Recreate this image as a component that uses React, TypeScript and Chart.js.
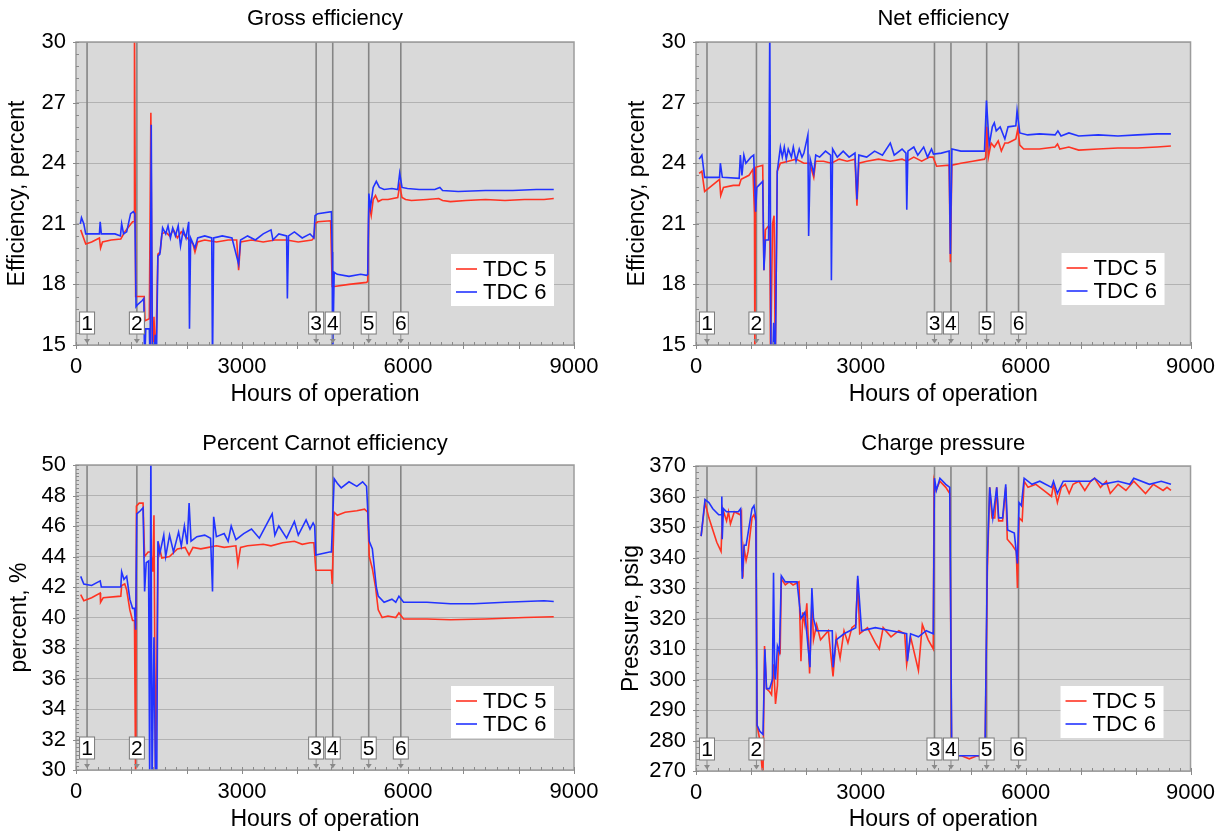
import React, { useEffect, useRef } from 'react';
import { Chart, registerables } from 'chart.js';

Chart.register(...registerables);

const FONT = '"Liberation Sans", Arial, Helvetica, sans-serif';
Chart.defaults.font.family = FONT;
Chart.defaults.color = '#000';

// ---------- shared ----------
const seriesLabels = ['TDC 5', 'TDC 6'];
const seriesColors = ['#ff3322', '#2233ff'];
const eventHours = [200, 1100, 4340, 4640, 5290, 5870];
const eventLabels = ['1', '2', '3', '4', '5', '6'];
const xTickLabels = ['0', '3000', '6000', '9000'];

// ---------- Gross efficiency ----------
const grossHours5 = [85,176,282,423,444,479,634,810,881,1022,1050,1057,1078,1128,1233,1247,1325,1353,1381,1409,1438,1480,1522,1551,1621,1691,1762,1832,1903,1973,2044,2114,2150,2199,2326,2537,2749,2904,2939,2974,3172,3383,3594,3806,4017,4264,4299,4320,4370,4602,4630,4666,4934,5251,5272,5293,5335,5371,5413,5462,5533,5638,5815,5850,5892,5956,6061,6343,6555,6625,6766,7048,7400,7753,8105,8458,8634];
const gross5 = [20.7,20.0,20.1,20.3,19.8,20.1,20.2,20.25,20.6,21.1,21.1,31,17.4,17.4,17.4,16.2,16.3,26.5,14,16.4,14,19.5,19.6,20.5,20.6,20.4,20.7,20.3,20.6,20.4,20.2,20.0,19.6,20.1,20.2,20.1,20.2,20.2,18.7,20.1,20.2,20.1,20.2,20.2,20.1,20.2,20.3,21.0,21.1,21.15,17.9,17.9,18.0,18.1,18.15,22.0,21.4,22.2,22.4,22.1,22.2,22.2,22.3,22.9,22.3,22.2,22.15,22.2,22.25,22.15,22.1,22.15,22.2,22.15,22.2,22.2,22.25];
const grossHours6 = [78,99,141,176,423,437,458,705,803,825,860,916,987,1036,1064,1085,1114,1198,1226,1240,1261,1325,1339,1360,1381,1409,1431,1452,1480,1515,1565,1621,1663,1706,1748,1797,1847,1889,1938,1988,2037,2051,2072,2150,2199,2326,2453,2467,2488,2643,2819,2939,2974,3101,3242,3383,3524,3559,3665,3806,3820,3841,3947,4088,4229,4299,4320,4370,4616,4630,4637,4666,4722,4934,5145,5251,5272,5293,5321,5371,5427,5483,5568,5709,5815,5850,5892,5991,6202,6484,6576,6625,6907,7400,7894,8317,8634];
const gross6 = [21.0,21.3,21.0,20.5,20.5,21.1,20.5,20.5,20.4,21.0,20.5,20.6,21.5,21.6,21.5,16.9,17.0,17.2,17.3,14,15.8,15.8,14,25.9,14,14,15.5,14,19.4,19.5,20.8,20.5,20.9,20.3,20.8,20.4,20.9,19.9,20.7,20.3,21.1,15.8,20.3,19.8,20.3,20.4,20.3,14,20.3,20.4,20.3,19.0,20.2,20.4,20.2,20.5,20.7,20.2,20.5,20.4,17.3,20.4,20.6,20.3,20.5,20.3,21.4,21.5,21.6,19.6,14,18.6,18.5,18.4,18.5,18.45,18.5,22.5,21.8,22.8,23.1,22.8,22.7,22.75,22.7,23.5,22.8,22.75,22.7,22.7,22.8,22.65,22.6,22.65,22.65,22.7,22.7];

// ---------- Net efficiency ----------
const netHours5 = [57,107,157,250,429,450,500,679,786,821,964,1036,1064,1071,1086,1214,1236,1264,1321,1343,1357,1393,1421,1443,1479,1536,1679,1821,1964,2071,2143,2179,2321,2464,2607,2750,2893,2929,2964,3107,3321,3536,3750,3836,3964,4107,4250,4314,4379,4607,4629,4657,4821,5036,5250,5271,5293,5321,5371,5429,5500,5557,5621,5679,5750,5821,5857,5893,5964,6250,6536,6579,6621,6786,6964,7321,7679,8036,8393,8643];
const net5 = [23.5,23.6,22.6,22.8,23.2,22.4,22.8,22.9,22.9,23.2,23.4,23.7,21.5,14,23.8,23.9,18.7,20.7,20.9,20.8,14,21.0,21.4,14,23.6,24.0,24.1,24.2,24.0,24.0,23.3,24.1,24.1,24.0,24.2,24.1,24.2,21.9,24.0,24.1,24.2,24.1,24.2,24.1,24.3,24.1,24.3,24.3,23.85,23.9,19.1,23.9,24.0,24.1,24.2,24.3,25.8,24.3,25.0,24.8,25.1,24.6,25.0,25.0,25.1,25.2,25.7,24.9,24.7,24.7,24.8,24.95,24.7,24.8,24.65,24.7,24.75,24.75,24.8,24.85];
const netHours6 = [57,107,157,429,443,479,786,807,836,871,907,1000,1050,1086,1107,1179,1214,1236,1264,1321,1343,1364,1393,1414,1443,1479,1536,1571,1607,1643,1679,1736,1771,1821,1879,1929,1964,2036,2050,2079,2143,2179,2250,2357,2450,2464,2486,2571,2679,2786,2893,2929,2964,3107,3250,3393,3536,3607,3750,3821,3836,3857,3964,4036,4143,4214,4286,4321,4464,4607,4629,4657,4821,5036,5250,5286,5336,5393,5429,5464,5536,5621,5679,5821,5843,5893,6036,6250,6536,6586,6643,6786,6964,7321,7679,8036,8393,8643];
const net6 = [24.2,24.4,23.3,23.3,24.0,23.3,23.25,24.4,23.4,24.4,24.0,24.3,24.4,21.6,22.8,23.0,23.1,18.7,20.2,20.2,31,14,14,16.1,14,23.6,24.8,24.3,24.8,24.2,24.7,24.3,24.8,24.1,24.7,24.3,24.5,25.4,20.4,24.2,23.5,24.4,24.3,24.6,24.4,18.2,24.7,24.3,24.6,24.3,24.5,22.2,24.4,24.3,24.6,24.4,25.0,24.4,24.7,24.5,21.7,24.6,24.8,24.4,24.8,24.3,24.7,24.45,24.5,24.6,19.5,24.7,24.6,24.6,24.6,27.1,24.9,25.8,26.0,25.6,25.8,25.2,25.8,25.85,26.6,25.5,25.4,25.45,25.4,25.6,25.35,25.5,25.35,25.4,25.35,25.4,25.45,25.45];

// ---------- Percent Carnot efficiency ----------
const carnotHours5 = [85,141,282,437,444,493,810,825,881,916,973,1022,1057,1078,1092,1142,1212,1240,1304,1353,1388,1409,1438,1480,1501,1551,1691,1832,1973,2044,2114,2255,2396,2537,2678,2890,2925,2974,3101,3383,3524,3735,3947,4088,4229,4299,4334,4616,4630,4666,4722,4863,5075,5215,5272,5300,5356,5413,5462,5533,5638,5779,5836,5920,6343,6766,7400,8105,8634];
const carnot5 = [41.5,41.1,41.3,41.6,41.0,41.3,41.4,42.1,42.2,41.8,40.5,39.8,39.8,29,47.3,47.5,47.5,44.0,44.3,44.3,43.0,46.7,29,43.8,44.7,43.9,44.0,44.5,44.6,44.1,44.6,44.5,44.6,44.7,44.6,44.7,43.5,44.6,44.7,44.8,44.7,44.9,45.0,44.8,44.9,44.9,43.1,43.1,42.2,46.9,46.7,46.9,47.0,47.1,46.9,44.0,43.2,42.0,40.5,40.0,40.1,40.0,40.3,39.9,39.9,39.85,39.9,40.0,40.05];
const carnotHours6 = [85,141,282,437,458,810,825,867,916,973,1022,1057,1078,1099,1163,1212,1240,1269,1311,1332,1353,1374,1409,1438,1459,1480,1515,1586,1621,1691,1762,1854,1903,1959,2009,2044,2079,2185,2326,2432,2467,2488,2537,2678,2749,2805,2890,3031,3172,3313,3545,3594,3665,3806,3947,4017,4158,4229,4285,4313,4334,4581,4616,4666,4722,4793,4934,5075,5180,5251,5300,5356,5427,5462,5568,5709,5779,5836,5920,6343,6766,7189,7753,8458,8634];
const carnot6 = [42.7,42.2,42.1,42.4,42.0,42.0,43.0,42.5,42.7,41.2,40.6,40.6,39.2,46.8,47.0,47.2,41.7,43.6,43.7,29,51,29,38.7,29,29,45.0,44.2,45.4,44.0,45.4,44.3,45.6,44.7,46.0,44.8,47.5,45.0,45.3,45.4,45.2,41.7,46.6,45.3,45.5,45.0,46.0,45.1,45.5,45.8,45.2,46.8,45.4,46.0,45.2,46.3,45.4,46.4,45.8,46.2,46.0,44.1,44.3,44.3,49.1,48.8,48.5,48.9,48.6,48.9,48.6,45.0,44.5,42.0,41.4,41.0,41.2,41.0,41.4,41.0,41.0,40.9,40.9,41.0,41.1,41.05];

// ---------- Charge pressure ----------
const pressureHours5 = [93,164,235,306,378,456,485,556,591,627,698,805,827,841,855,876,912,948,1019,1055,1090,1112,1162,1197,1219,1247,1283,1340,1375,1411,1447,1482,1504,1532,1553,1625,1696,1767,1874,1910,1945,1981,2017,2067,2109,2138,2195,2266,2409,2494,2551,2622,2694,2765,2836,2907,2943,2979,3121,3264,3335,3406,3549,3692,3798,3834,3905,4048,4119,4226,4318,4333,4368,4439,4546,4618,4653,4831,4974,5117,5259,5302,5345,5387,5437,5473,5508,5580,5637,5665,5758,5829,5850,5879,5936,5972,6043,6185,6328,6470,6506,6577,6649,6720,6791,6862,6969,7076,7183,7254,7361,7468,7539,7682,7824,7967,8181,8323,8501,8572,8644];
const pressure5 = [347,358,353,349,345,342,356,352,355,351,355,354,355,336,335,343,339,342,353,354,352,285,280,272,268,311,297,296,295,305,292,298,310,309,333,331,332,331,332,306,322,318,325,302,326,313,318,313,316,301,314,307,316,312,317,318,333,315,317,312,310,317,314,316,315,305,314,303,318,313,310,365,362,365,363,361,275,275,274,275,274,335,363,353,353,363,352,352,363,346,344,342,330,353,352,365,363,364,362,360,364,358,363,364,361,364,365,362,365,366,363,365,361,364,362,365,361,364,362,363,362];
const pressureHours6 = [93,164,235,306,413,456,470,477,499,556,770,812,841,876,912,948,1019,1055,1090,1112,1162,1219,1254,1283,1340,1390,1411,1432,1447,1482,1518,1553,1625,1839,1910,1981,2074,2109,2138,2195,2480,2494,2551,2694,2907,2943,3014,3264,3549,3834,3848,3905,4048,4190,4318,4340,4375,4439,4546,4618,4653,4689,4974,5259,5302,5345,5402,5473,5508,5580,5637,5672,5793,5850,5879,5921,5972,6114,6257,6470,6506,6577,6684,6969,7183,7254,7397,7682,7896,7967,8252,8466,8644];
const pressure6 = [347,359,358,356,354,354,360,346,356,355,355,356,333,344,344,348,356,357,353,285,283,282,310,297,297,300,335,302,300,311,309,334,332,332,320,322,304,330,320,316,316,304,313,315,317,334,316,317,316,315,306,315,314,316,315,366,362,366,364,363,280,275,275,275,340,363,353,363,353,353,364,349,348,338,358,357,366,364,365,363,365,361,365,365,365,366,364,365,364,366,364,365,364];

// ---------- style constants ----------
const PLOT_BG = '#d9d9d9';
const GRID = '#b2b2b2';
const FRAME = '#9c9c9c';
const EVENT_LINE = '#858585';
const TICK_FONT = 22;
const TITLE_FONT = 22;
const AXIS_TITLE_FONT = 23;

type Rect = { left: number; top: number; width: number; height: number };
type Area = { left: number; top: number; right: number; bottom: number };

interface Panel {
  title: string;
  yTitle: string;
  yMin: number;
  yMax: number;
  yStep: number;
  yMinor: number;
  series: [number[], number[]][];
  box: Rect;
  area: Area;
  titleY: number;
  xTitleY: number;
  yTitleX: number;
  legendRight: number;
  legendBottom: number;
}

const panels: Panel[] = [
  {
    title: 'Gross efficiency', yTitle: 'Efficiency, percent', yMin: 15, yMax: 30, yStep: 3, yMinor: 0.6,
    series: [[grossHours5, gross5], [grossHours6, gross6]],
    box: { left: 0, top: 0, width: 613, height: 416 },
    area: { left: 76, top: 42, right: 574, bottom: 345 },
    titleY: 18.5, xTitleY: 395, yTitleX: 18, legendRight: 20, legendBottom: 39,
  },
  {
    title: 'Net efficiency', yTitle: 'Efficiency, percent', yMin: 15, yMax: 30, yStep: 3, yMinor: 0.6,
    series: [[netHours5, net5], [netHours6, net6]],
    box: { left: 613, top: 0, width: 613, height: 416 },
    area: { left: 696, top: 42, right: 1193, bottom: 345 },
    titleY: 18.5, xTitleY: 395, yTitleX: 638, legendRight: 26, legendBottom: 40,
  },
  {
    title: 'Percent Carnot efficiency', yTitle: 'percent, %', yMin: 30, yMax: 50, yStep: 2, yMinor: 0.25,
    series: [[carnotHours5, carnot5], [carnotHours6, carnot6]],
    box: { left: 0, top: 416, width: 613, height: 417 },
    area: { left: 76, top: 465, right: 574, bottom: 770 },
    titleY: 444, xTitleY: 820, yTitleX: 20, legendRight: 20, legendBottom: 32,
  },
  {
    title: 'Charge pressure', yTitle: 'Pressure, psig', yMin: 270, yMax: 370, yStep: 10, yMinor: 2,
    series: [[pressureHours5, pressure5], [pressureHours6, pressure6]],
    box: { left: 613, top: 416, width: 613, height: 417 },
    area: { left: 696, top: 466, right: 1193, bottom: 771 },
    titleY: 444, xTitleY: 820, yTitleX: 632, legendRight: 27, legendBottom: 33,
  },
];

function makeDecor(p: Panel) {
  return {
    id: 'decor',
    beforeDraw(chart: any) {
      const { ctx, chartArea: a } = chart;
      ctx.save();
      ctx.fillStyle = PLOT_BG;
      ctx.fillRect(a.left, a.top, a.right - a.left, a.bottom - a.top);
      ctx.restore();
    },
    beforeDatasetsDraw(chart: any) {
      const { ctx, chartArea: a } = chart;
      const x = chart.scales.x;
      ctx.save();
      ctx.strokeStyle = EVENT_LINE;
      ctx.lineWidth = 1.6;
      eventHours.forEach((h) => {
        const px = x.getPixelForValue(h);
        ctx.beginPath();
        ctx.moveTo(px, a.top);
        ctx.lineTo(px, a.bottom - 33);
        ctx.stroke();
      });
      ctx.restore();
    },
    afterDatasetsDraw(chart: any) {
      const { ctx, chartArea: a } = chart;
      const x = chart.scales.x;
      const y = chart.scales.y;
      ctx.save();
      // frame
      ctx.strokeStyle = FRAME;
      ctx.lineWidth = 1.5;
      ctx.strokeRect(a.left, a.top, a.right - a.left, a.bottom - a.top);
      // x ticks
      ctx.strokeStyle = '#8a8a8a';
      ctx.lineWidth = 1;
      for (let i = 0; i <= 45; i++) {
        const h = i * 200;
        const px = Math.round(x.getPixelForValue(h)) + 0.5;
        const major = h % 1000 === 0;
        ctx.beginPath();
        ctx.moveTo(px, a.bottom - 3);
        ctx.lineTo(px, a.bottom + (major ? 4 : 0));
        ctx.stroke();
      }
      // y ticks
      const n = Math.round((p.yMax - p.yMin) / p.yMinor);
      for (let i = 0; i <= n; i++) {
        const v = p.yMin + i * p.yMinor;
        const py = Math.round(y.getPixelForValue(v)) + 0.5;
        const r = (v - p.yMin) / p.yStep;
        const major = Math.abs(r - Math.round(r)) < 1e-6;
        ctx.beginPath();
        ctx.moveTo(a.left - (major ? 3 : 0), py);
        ctx.lineTo(a.left + 3, py);
        ctx.stroke();
      }
      // event boxes
      ctx.font = `21px ${FONT}`;
      ctx.textAlign = 'center';
      ctx.textBaseline = 'middle';
      eventHours.forEach((h, i) => {
        const px = x.getPixelForValue(h);
        const bx = px - 7.5;
        const by = a.bottom - 33;
        ctx.fillStyle = '#ffffff';
        ctx.fillRect(bx, by, 15, 22);
        ctx.strokeStyle = '#7a7a7a';
        ctx.lineWidth = 1;
        ctx.strokeRect(bx, by, 15, 22);
        ctx.fillStyle = '#000';
        ctx.fillText(eventLabels[i], px, by + 12);
        // arrow
        ctx.strokeStyle = '#8a8a8a';
        ctx.beginPath();
        ctx.moveTo(px, by + 22);
        ctx.lineTo(px, a.bottom - 5);
        ctx.stroke();
        ctx.fillStyle = '#8a8a8a';
        ctx.beginPath();
        ctx.moveTo(px - 3, a.bottom - 6);
        ctx.lineTo(px + 3, a.bottom - 6);
        ctx.lineTo(px, a.bottom - 1.5);
        ctx.closePath();
        ctx.fill();
      });
      // legend
      const lw = 103;
      const lh = 52;
      const lx = a.right - p.legendRight - lw;
      const ly = a.bottom - p.legendBottom - lh;
      ctx.fillStyle = '#ffffff';
      ctx.fillRect(lx, ly, lw, lh);
      ctx.font = `22px ${FONT}`;
      ctx.textAlign = 'left';
      ctx.textBaseline = 'middle';
      chart.data.datasets.forEach((ds: any, i: number) => {
        const ry = ly + 15 + i * 23;
        ctx.strokeStyle = ds.borderColor;
        ctx.lineWidth = 1.6;
        ctx.beginPath();
        ctx.moveTo(lx + 5, ry);
        ctx.lineTo(lx + 26, ry);
        ctx.stroke();
        ctx.fillStyle = '#000';
        ctx.fillText(ds.label, lx + 32, ry + 1);
      });
      ctx.restore();
    },
  };
}

function buildConfig(p: Panel): any {
  const areaL = p.area.left - p.box.left;
  const areaR = p.area.right - p.box.left;
  const areaT = p.area.top - p.box.top;
  const areaB = p.area.bottom - p.box.top;
  const titleLH = TITLE_FONT * 1.2;
  const titleCenter = p.titleY - p.box.top;
  const titlePadTop = titleCenter - titleLH / 2;
  const titlePadBottom = areaT - titleLH - titlePadTop;
  const xHeight = p.box.height - areaB;
  const xTitleOffset = p.box.height - (p.xTitleY - p.box.top);
  const yTitleOffset = p.yTitleX - p.box.left;

  const datasets = p.series.map(([hours, vals], i) => ({
    label: seriesLabels[i],
    data: hours.map((h, k) => ({ x: h, y: vals[k] })),
    borderColor: seriesColors[i],
    backgroundColor: seriesColors[i],
    borderWidth: 1.6,
    pointRadius: 0,
    tension: 0,
    fill: false,
    order: i === 0 ? 1 : 0,
  }));

  return {
    type: 'line',
    data: { datasets },
    options: {
      animation: false,
      responsive: false,
      devicePixelRatio: 1,
      layout: { padding: { left: 0, top: 0, right: p.box.width - areaR, bottom: 0 } },
      plugins: {
        legend: { display: false },
        tooltip: { enabled: false },
        title: {
          display: true,
          text: p.title,
          fullSize: false,
          color: '#000',
          font: { family: FONT, size: TITLE_FONT, weight: 'normal', lineHeight: 1.2 },
          padding: { top: titlePadTop, bottom: titlePadBottom },
        },
      },
      scales: {
        x: {
          type: 'linear',
          min: 0,
          max: 9000,
          ticks: {
            stepSize: 3000,
            color: '#000',
            padding: 11,
            maxRotation: 0,
            autoSkip: false,
            font: { family: FONT, size: TICK_FONT, lineHeight: 1 },
            callback: (v: number) => xTickLabels[Math.round(v / 3000)] ?? '',
          },
          grid: { display: false, drawTicks: false },
          border: { display: false },
          title: {
            display: true,
            text: 'Hours of operation',
            color: '#000',
            font: { family: FONT, size: AXIS_TITLE_FONT, lineHeight: 1 },
            padding: { top: 0, bottom: xTitleOffset - AXIS_TITLE_FONT / 2 },
          },
          afterFit: (s: any) => { s.height = xHeight; },
        },
        y: {
          type: 'linear',
          min: p.yMin,
          max: p.yMax,
          ticks: {
            stepSize: p.yStep,
            color: '#000',
            padding: 10,
            font: { family: FONT, size: TICK_FONT, lineHeight: 1 },
            callback: (v: number) => String(v),
          },
          grid: { color: GRID, lineWidth: 1, drawTicks: false },
          border: { display: false },
          title: {
            display: true,
            text: p.yTitle,
            color: '#000',
            font: { family: FONT, size: AXIS_TITLE_FONT, lineHeight: 1 },
            padding: { top: yTitleOffset - AXIS_TITLE_FONT / 2, bottom: 0 },
          },
          afterFit: (s: any) => { s.width = areaL; },
        },
      },
    },
    plugins: [makeDecor(p)],
  };
}

function PanelChart({ panel }: { panel: Panel }) {
  const ref = useRef<HTMLCanvasElement>(null);
  useEffect(() => {
    const chart = new Chart(ref.current as HTMLCanvasElement, buildConfig(panel));
    return () => chart.destroy();
  }, [panel]);
  const b = panel.box;
  return (
    <canvas
      ref={ref}
      width={b.width}
      height={b.height}
      style={{ position: 'absolute', left: b.left, top: b.top, width: b.width, height: b.height }}
    />
  );
}

export default function App() {
  return (
    <div style={{ position: 'absolute', left: 0, top: 0, width: 1226, height: 833, background: '#fff', overflow: 'hidden' }}>
      {panels.map((p) => (
        <PanelChart key={p.title} panel={p} />
      ))}
    </div>
  );
}
